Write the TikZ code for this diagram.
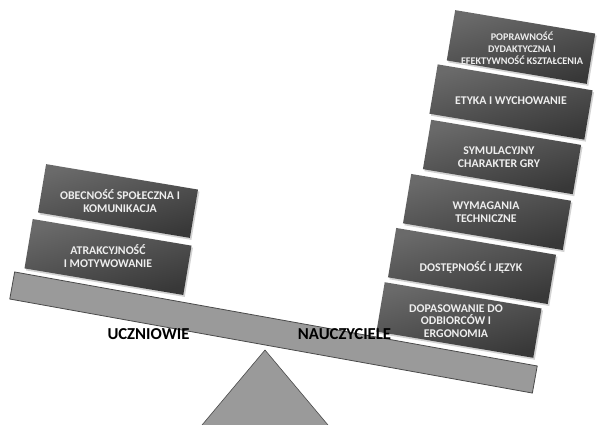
\documentclass[tikz,border=0pt]{standalone}
\usepackage{fontspec}
\setmainfont{Carlito}
\usetikzlibrary{shadows}
\definecolor{boxlight}{HTML}{6A6A6A}
\definecolor{boxdark}{HTML}{383838}
\definecolor{beamfill}{HTML}{9A9A9A}
\definecolor{edgegray}{HTML}{4A4A4A}
\definecolor{boxtext}{HTML}{EEEEEE}
\tikzset{
  boxshape/.style={rectangle, inner sep=0pt, top color=boxlight, bottom color=boxdark,
    shading angle=15, rotate=-9.5,
    drop shadow={opacity=0.35, shadow xshift=1.5pt, shadow yshift=-2pt}},
  boxlabel/.style={text=boxtext, font=\bfseries\fontsize{11.8}{12.8}\selectfont,
    align=center, inner sep=0pt},
  smalllabel/.style={boxlabel, font=\bfseries\fontsize{10.2}{12}\selectfont},
  sidelabel/.style={font=\bfseries\fontsize{16.7}{19}\selectfont, text=black, inner sep=0pt},
  beamstyle/.style={rectangle, draw=edgegray, line width=0.8pt, fill=beamfill,
    inner sep=0pt, rotate=-10.2},
  fulcrum/.style={draw=edgegray, line width=0.6pt, fill=beamfill}
}
\begin{document}
\begin{tikzpicture}[x=1pt,y=-1pt]
\useasboundingbox (0,0) rectangle (603,424);
\clip (0,0) rectangle (603,424);
\fill[white] (0,0) rectangle (603,424);

% fulcrum
\draw[fulcrum] (265,350) -- (197,431) -- (333,431) -- cycle;

% beam
\node[beamstyle, minimum width=531pt, minimum height=27.5pt] (beam) at (273.5,332.5) {};

% right stack (teachers)
\node[boxshape, minimum width=142pt, minimum height=51pt] (r1) at (521,47) {};
\node[boxshape, minimum width=157pt, minimum height=50pt] (r2) at (511,102) {};
\node[boxshape, minimum width=152pt, minimum height=50pt] (r3) at (502,157) {};
\node[boxshape, minimum width=162pt, minimum height=50pt] (r4) at (487,212) {};
\node[boxshape, minimum width=162pt, minimum height=50pt] (r5) at (472,266) {};
\node[boxshape, minimum width=159pt, minimum height=50pt] (r6) at (459,320) {};

\node[smalllabel] (t1) at (522,48) {POPRAWNOŚĆ\\DYDAKTYCZNA I\\EFEKTYWNOŚĆ KSZTAŁCENIA};
\node[boxlabel] (t2) at (511,101) {ETYKA I WYCHOWANIE};
\node[boxlabel] (t3) at (499,157) {SYMULACYJNY\\CHARAKTER GRY};
\node[boxlabel] (t4) at (486,212) {WYMAGANIA\\TECHNICZNE};
\node[boxlabel] (t5) at (471,267) {DOSTĘPNOŚĆ I JĘZYK};
\node[boxlabel] (t6) at (456,321) {DOPASOWANIE DO\\ODBIORCÓW I\\ERGONOMIA};

% left stack (students)
\node[boxshape, minimum width=154pt, minimum height=49pt] (l1) at (118,201) {};
\node[boxshape, minimum width=161pt, minimum height=50pt] (l2) at (108,257) {};

\node[boxlabel] (u1) at (120,201) {OBECNOŚĆ SPOŁECZNA I\\KOMUNIKACJA};
\node[boxlabel] (u2) at (108,256) {ATRAKCYJNOŚĆ\\I MOTYWOWANIE};

% side labels
\node[sidelabel] (students) at (148.5,334) {UCZNIOWIE};
\node[sidelabel] (teachers) at (344.5,334) {NAUCZYCIELE};
\end{tikzpicture}
\end{document}
